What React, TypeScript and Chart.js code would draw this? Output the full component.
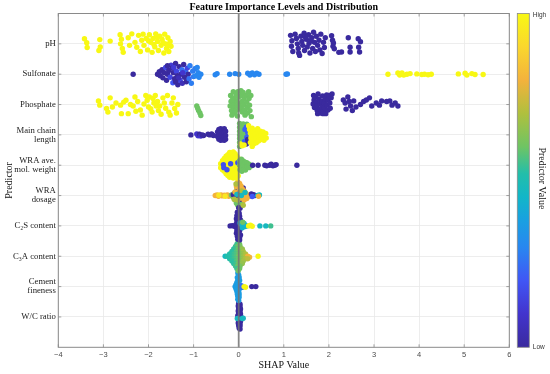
import React, { useEffect, useRef } from 'react';
import { Chart, registerables } from 'chart.js';
Chart.register(...registerables);

// ---------- data ----------
const featureLabels: (string | string[])[] = [
  'pH', 'Sulfonate', 'Phosphate', ['Main chain', 'length'], ['WRA ave.', 'mol. weight'],
  ['WRA', 'dosage'], 'C\u2082S content', 'C\u2083A content', ['Cement', 'fineness'], 'W/C ratio',
];
const rowPositions = [10, 9, 8, 7, 6, 5, 4, 3, 2, 1];
const xTickValues = [-4, -3, -2, -1, 0, 1, 2, 3, 4, 5, 6];

// each point: [SHAP value, vertical jitter (rows), normalised predictor value 0..1]
type P = [number, number, number];

const phPts: P[] = [
  [-3.42, 0.17, 1], [-3.37, 0.04, 1], [-3.36, -0.12, 1], [-3.08, 0.14, 1], [-3.1, -0.22, 1], [-3.07, -0.1, 1],
  [-2.85, 0.09, 1], [-2.63, 0.3, 1], [-2.6, 0.15, 1], [-2.62, 0.0, 1], [-2.58, -0.15, 1], [-2.56, -0.28, 1],
  [-2.37, 0.33, 1], [-2.3, 0.05, 1], [-2.26, -0.11, 1], [-2.22, 0.28, 1], [-2.18, -0.25, 1], [-2.12, 0.32, 1],
  [-2.1, -0.05, 1], [-2.05, 0.18, 1], [-2.02, -0.2, 1], [-1.98, 0.3, 1], [-1.95, 0.05, 1], [-1.92, -0.28, 1],
  [-1.9, 0.18, 1], [-1.86, -0.1, 1], [-1.84, 0.33, 1], [-1.8, 0.08, 1], [-1.78, -0.22, 1], [-1.75, 0.25, 1],
  [-1.72, -0.05, 1], [-1.7, 0.15, 1], [-1.66, -0.3, 1], [-1.64, 0.32, 1], [-1.62, 0.0, 1], [-1.6, -0.15, 1],
  [-1.57, 0.2, 1], [-1.55, -0.25, 1], [-1.52, 0.08, 1], [-1.5, -0.08, 1], [-2.45, 0.2, 1], [-2.42, -0.05, 1],
  [-2.0, 0.1, 1], [-1.88, -0.02, 1], [-1.68, 0.05, 1], [-2.15, 0.12, 1], [-1.82, 0.22, 1], [-1.58, -0.03, 1],
  [1.15, 0.28, 0], [1.18, 0.1, 0], [1.17, -0.08, 0], [1.2, -0.25, 0], [1.25, 0.32, 0], [1.28, 0.18, 0],
  [1.3, 0.0, 0], [1.32, -0.15, 0], [1.33, -0.3, 0], [1.38, 0.25, 0], [1.4, 0.08, 0], [1.42, -0.05, 0],
  [1.45, 0.35, 0], [1.46, -0.22, 0], [1.5, 0.15, 0], [1.52, -0.1, 0], [1.55, 0.3, 0], [1.56, 0.02, 0],
  [1.58, -0.3, 0], [1.62, 0.2, 0], [1.64, -0.15, 0], [1.66, 0.38, 0], [1.68, 0.05, 0], [1.7, -0.25, 0],
  [1.72, 0.25, 0], [1.75, -0.05, 0], [1.78, 0.12, 0], [1.8, -0.2, 0], [1.82, 0.32, 0], [1.85, -0.32, 0],
  [1.88, 0.05, 0], [1.9, -0.12, 0], [1.92, 0.2, 0], [1.35, -0.38, 0], [1.6, 0.1, 0], [1.48, 0.22, 0],
  [2.06, 0.27, 0], [2.08, 0.12, 0], [2.1, 0.03, 0], [2.09, -0.08, 0], [2.12, -0.16, 0], [2.28, -0.27, 0],
  [2.43, 0.2, 0], [2.47, -0.11, 0], [2.47, -0.27, 0], [2.65, 0.17, 0], [2.7, 0.07, 0], [2.66, -0.11, 0],
  [2.68, -0.27, 0], [2.22, -0.28, 0],
];

const sulfonatePts: P[] = [
  [-2.34, 0.0, 0],
  [-1.8, 0.0, 0], [-1.76, 0.08, 0], [-1.74, -0.05, 0], [-1.7, 0.15, 0], [-1.68, -0.12, 0], [-1.65, 0.05, 0],
  [-1.62, 0.22, 0.15], [-1.6, -0.2, 0], [-1.58, 0.0, 0], [-1.55, 0.12, 0], [-1.52, -0.1, 0.15], [-1.5, 0.3, 0.12],
  [-1.48, 0.2, 0], [-1.46, -0.28, 0.2], [-1.45, 0.05, 0], [-1.42, -0.15, 0], [-1.4, 0.35, 0], [-1.38, 0.1, 0.15],
  [-1.36, -0.05, 0], [-1.35, -0.35, 0], [-1.32, 0.25, 0], [-1.3, -0.2, 0.15], [-1.28, 0.0, 0], [-1.26, 0.15, 0.25],
  [-1.25, -0.3, 0.05], [-1.22, 0.32, 0], [-1.2, -0.1, 0], [-1.18, 0.08, 0.25], [-1.16, -0.25, 0], [-1.14, 0.2, 0.15],
  [-1.12, 0.0, 0], [-1.1, -0.15, 0.25], [-1.08, 0.28, 0.28], [-1.05, -0.3, 0.28], [-1.02, 0.1, 0.28], [-1.0, -0.08, 0.28],
  [-0.97, 0.18, 0.28], [-0.95, -0.05, 0.3], [-0.92, 0.22, 0.3], [-0.9, 0.05, 0.3], [-0.88, -0.1, 0.3], [-1.58, 0.28, 0],
  [-1.44, 0.22, 0.12], [-1.33, -0.12, 0.05], [-1.24, 0.05, 0.1], [-1.4, -0.25, 0],
  [-0.84, 0.0, 0.3], [-0.52, -0.02, 0.3], [-0.48, 0.02, 0.3], [-0.2, 0.0, 0.3], [-0.08, 0.02, 0.3], [0.0, 0.0, 0.3],
  [0.2, 0.03, 0.3], [0.25, -0.03, 0.3], [0.3, 0.04, 0.3], [0.35, -0.02, 0.3], [0.4, 0.03, 0.3], [0.45, 0.0, 0.3],
  [1.05, 0.0, 0.3], [1.08, 0.01, 0.3],
  [3.31, 0.0, 1], [3.53, 0.04, 1], [3.57, -0.03, 1], [3.62, 0.04, 1], [3.66, -0.03, 1], [3.73, 0.0, 1],
  [3.8, 0.02, 1], [3.95, 0.01, 1], [4.06, -0.01, 1], [4.12, 0.0, 1], [4.2, -0.02, 1], [4.27, 0.0, 1],
  [4.87, 0.01, 1], [5.02, 0.03, 1], [5.06, -0.03, 1], [5.17, 0.02, 1], [5.24, -0.01, 1], [5.42, -0.01, 1],
];

const phosphatePts: P[] = [
  [-3.11, 0.12, 1], [-3.08, -0.02, 1], [-2.93, -0.13, 1], [-2.9, -0.25, 1], [-2.85, 0.22, 1], [-2.8, -0.08, 1],
  [-2.72, 0.05, 1], [-2.62, -0.02, 1], [-2.6, -0.3, 1], [-2.5, 0.14, 1], [-2.45, -0.3, 1], [-2.4, 0.0, 1],
  [-2.34, -0.05, 1], [-2.3, 0.25, 1], [-2.24, 0.1, 1], [-2.18, -0.18, 1], [-2.14, -0.35, 1], [-2.1, 0.02, 1],
  [-2.06, 0.3, 1], [-2.03, 0.14, 1], [-2.0, -0.08, 1], [-1.98, 0.25, 1], [-1.95, -0.14, 1], [-1.92, -0.25, 1],
  [-1.9, 0.2, 1], [-1.88, 0.05, 1], [-1.85, 0.3, 1], [-1.83, -0.05, 1], [-1.8, 0.1, 1], [-1.78, -0.2, 1],
  [-1.75, -0.05, 1], [-1.72, -0.32, 1], [-1.68, 0.22, 1], [-1.65, 0.05, 1], [-1.62, -0.12, 1], [-1.58, 0.3, 1],
  [-1.55, -0.25, 1], [-1.52, -0.35, 1], [-1.48, 0.05, 1], [-1.45, 0.22, 1], [-1.42, -0.13, 1], [-1.38, -0.28, 1],
  [-1.35, 0.0, 1], [-2.55, 0.08, 1], [-2.28, -0.22, 1],
  [-0.93, -0.05, 0.6], [-0.91, -0.12, 0.6], [-0.89, -0.2, 0.6], [-0.86, -0.28, 0.6], [-0.84, -0.36, 0.6],
  [-0.18, 0.3, 0.6], [-0.17, 0.1, 0.6], [-0.19, -0.05, 0.6], [-0.16, -0.2, 0.6], [-0.15, -0.35, 0.6], [-0.12, 0.42, 0.6],
  [-0.1, 0.22, 0.6], [-0.1, 0.0, 0.6], [-0.11, -0.12, 0.6], [-0.09, -0.28, 0.6], [-0.06, 0.35, 0.6], [-0.05, 0.12, 0.6],
  [-0.04, -0.05, 0.6], [-0.06, -0.2, 0.6], [-0.03, -0.38, 0.6], [0.0, 0.25, 0.6], [0.01, 0.02, 0.6], [0.02, -0.15, 0.6],
  [0.05, 0.46, 0.6], [0.06, 0.3, 0.6], [0.07, 0.1, 0.6], [0.06, -0.08, 0.6], [0.08, -0.25, 0.6], [0.1, 0.4, 0.6],
  [0.12, 0.18, 0.6], [0.12, 0.0, 0.6], [0.13, -0.18, 0.6], [0.14, -0.35, 0.6], [0.17, 0.3, 0.6], [0.18, 0.08, 0.6],
  [0.19, -0.1, 0.6], [0.2, -0.28, 0.6], [0.22, 0.42, 0.6], [0.23, 0.2, 0.6], [0.24, -0.02, 0.6], [0.25, -0.2, 0.6],
  [0.27, 0.3, 0.6], [0.28, -0.4, 0.6], [-0.14, 0.15, 0.6], [-0.02, 0.42, 0.6],
  [1.66, 0.3, 0], [1.67, 0.15, 0], [1.65, 0.02, 0], [1.68, -0.1, 0], [1.7, 0.25, 0], [1.72, 0.08, 0],
  [1.73, -0.05, 0], [1.74, -0.2, 0], [1.76, 0.35, 0], [1.78, 0.18, 0], [1.8, 0.02, 0], [1.8, -0.15, 0],
  [1.82, -0.28, 0], [1.84, 0.1, 0], [1.85, -0.08, 0], [1.86, 0.28, 0], [1.88, -0.22, 0], [1.9, 0.05, 0],
  [1.9, -0.1, 0], [1.92, 0.2, 0], [1.93, -0.3, 0], [1.95, 0.32, 0], [1.96, -0.02, 0], [1.98, 0.15, 0],
  [1.98, -0.18, 0], [2.0, 0.3, 0], [2.02, 0.05, 0], [2.03, -0.12, 0], [2.05, 0.22, 0], [2.07, 0.35, 0],
  [1.87, -0.3, 0], [1.75, -0.3, 0],
  [2.32, 0.15, 0], [2.36, 0.05, 0], [2.38, -0.15, 0], [2.42, 0.25, 0], [2.45, 0.1, 0], [2.48, -0.05, 0],
  [2.52, -0.2, 0], [2.55, 0.12, 0], [2.6, -0.08, 0], [2.7, 0.0, 0], [2.77, 0.1, 0], [2.83, 0.15, 0],
  [2.9, 0.22, 0], [2.95, -0.05, 0], [3.05, 0.05, 0], [3.12, -0.02, 0], [3.17, 0.12, 0], [3.28, 0.1, 0],
  [3.35, 0.12, 0], [3.4, -0.02, 0], [3.47, 0.05, 0], [3.53, -0.05, 0],
];

const mainChainPts: P[] = [
  [-1.06, 0.0, 0], [-0.93, 0.03, 0.1], [-0.9, -0.03, 0.1], [-0.87, 0.02, 0], [-0.84, -0.04, 0.1], [-0.81, 0.0, 0],
  [-0.78, -0.02, 0], [-0.68, 0.02, 0], [-0.64, 0.0, 0], [-0.6, 0.03, 0], [-0.56, -0.02, 0],
  [-0.47, 0.1, 0], [-0.47, -0.05, 0], [-0.44, 0.18, 0], [-0.44, 0.02, 0], [-0.44, -0.14, 0], [-0.4, 0.2, 0],
  [-0.4, 0.08, 0], [-0.4, -0.06, 0], [-0.4, -0.18, 0], [-0.36, 0.18, 0], [-0.36, 0.05, 0], [-0.36, -0.08, 0],
  [-0.36, -0.16, 0], [-0.32, 0.2, 0], [-0.32, 0.08, 0], [-0.32, -0.05, 0], [-0.32, -0.18, 0], [-0.29, 0.12, 0],
  [-0.29, -0.02, 0], [-0.29, -0.14, 0],
  [0.02, 0.38, 0.6], [0.02, 0.25, 0.6], [0.02, 0.12, 0.6], [0.02, 0.0, 0.6], [0.02, -0.12, 0.6], [0.02, -0.25, 0.6],
  [0.02, -0.38, 0.6], [0.06, 0.32, 0.6], [0.06, 0.2, 0.6], [0.06, 0.07, 0.6], [0.06, -0.06, 0.6], [0.06, -0.2, 0.6],
  [0.06, -0.32, 0.6], [0.1, 0.36, 0.6], [0.1, 0.22, 0.6], [0.1, 0.1, 0.6], [0.1, -0.03, 0.6], [0.1, -0.16, 0.6],
  [0.1, -0.28, 0.6], [0.14, 0.3, 0.6], [0.14, 0.05, 0.6], [0.14, -0.1, 0.6], [0.18, 0.35, 0.6], [0.18, 0.15, 0.6],
  [0.14, 0.18, 0.22], [0.17, 0.25, 0.22], [0.2, 0.08, 0.22], [0.18, -0.08, 0.22], [0.2, -0.2, 0.22], [0.13, -0.22, 0.22],
  [0.2, -0.15, 0], [0.22, -0.25, 0], [0.17, -0.3, 0],
  [0.04, -0.3, 1], [0.08, -0.36, 1], [0.12, -0.33, 1],
  [0.24, 0.18, 1], [0.26, 0.05, 1], [0.27, -0.1, 1], [0.26, -0.25, 1], [0.3, 0.22, 1], [0.31, 0.1, 1],
  [0.32, -0.03, 1], [0.32, -0.16, 1], [0.33, -0.3, 1], [0.36, 0.15, 1], [0.37, 0.02, 1], [0.38, -0.12, 1],
  [0.39, -0.26, 1], [0.42, 0.2, 1], [0.43, 0.07, 1], [0.44, -0.06, 1], [0.44, -0.2, 1], [0.48, 0.12, 1],
  [0.49, -0.02, 1], [0.5, -0.15, 1], [0.54, 0.1, 1], [0.55, -0.05, 1], [0.56, -0.18, 1], [0.6, 0.05, 1],
  [0.61, -0.1, 1], [0.3, -0.38, 1], [0.22, 0.3, 1],
];

const wraMolPts: P[] = [
  [-0.4, 0.05, 1], [-0.4, -0.08, 1], [-0.36, 0.15, 1], [-0.36, 0.0, 1], [-0.36, -0.15, 1], [-0.32, 0.22, 1],
  [-0.32, 0.08, 1], [-0.32, -0.06, 1], [-0.32, -0.2, 1], [-0.28, 0.3, 1], [-0.28, 0.15, 1], [-0.28, 0.0, 1],
  [-0.28, -0.14, 1], [-0.28, -0.28, 1], [-0.24, 0.35, 1], [-0.24, 0.22, 1], [-0.24, 0.08, 1], [-0.24, -0.06, 1],
  [-0.24, -0.2, 1], [-0.24, -0.34, 1], [-0.2, 0.42, 1], [-0.2, 0.28, 1], [-0.2, 0.15, 1], [-0.2, 0.0, 1],
  [-0.2, -0.14, 1], [-0.2, -0.28, 1], [-0.2, -0.4, 1], [-0.16, 0.38, 1], [-0.16, 0.22, 1], [-0.16, 0.08, 1],
  [-0.16, -0.06, 1], [-0.16, -0.2, 1], [-0.16, -0.34, 1], [-0.12, 0.44, 1], [-0.12, 0.3, 1], [-0.12, 0.15, 1],
  [-0.12, 0.0, 1], [-0.12, -0.14, 1], [-0.12, -0.28, 1], [-0.12, -0.42, 1], [-0.08, 0.38, 1], [-0.08, 0.22, 1],
  [-0.08, 0.08, 1], [-0.08, -0.06, 1], [-0.08, -0.2, 1], [-0.08, -0.34, 1], [-0.04, 0.3, 1], [-0.04, 0.15, 1],
  [-0.04, 0.0, 1], [-0.04, -0.14, 1], [-0.04, -0.28, 1], [-0.04, -0.42, 1], [-0.01, 0.22, 1], [-0.01, -0.35, 1],
  [-0.34, 0.02, 0.18], [-0.33, -0.08, 0.18], [-0.26, -0.15, 0.18], [-0.18, 0.05, 0.18], [-0.02, 0.08, 0.18],
  [0.02, 0.15, 0.6], [0.02, 0.0, 0.6], [0.03, -0.15, 0.6], [0.06, 0.2, 0.6], [0.06, 0.06, 0.6], [0.07, -0.08, 0.6],
  [0.07, -0.2, 0.6], [0.1, 0.14, 0.6], [0.1, 0.0, 0.6], [0.11, -0.14, 0.6], [0.14, 0.1, 0.6], [0.15, -0.04, 0.6],
  [0.15, -0.16, 0.6], [0.18, 0.08, 0.6], [0.19, -0.06, 0.6], [0.22, 0.04, 0.6], [0.23, -0.08, 0.6], [0.26, 0.0, 0.6],
  [0.29, -0.02, 0.6],
  [0.31, 0.0, 0], [0.43, 0.0, 0], [0.58, 0.0, 0], [0.62, -0.02, 0], [0.69, 0.0, 0], [0.72, 0.03, 0],
  [0.76, -0.02, 0], [0.8, 0.0, 0], [0.83, 0.02, 0], [1.29, 0.0, 0],
];

const wraDosagePts: P[] = [
  [-0.52, 0.0, 0.8], [-0.48, 0.02, 0.8], [-0.45, -0.02, 0.8], [-0.42, 0.0, 0.8], [-0.39, 0.02, 0.8], [-0.36, -0.01, 0.8],
  [-0.32, 0.01, 0.8], [-0.28, 0.0, 0.8], [-0.25, 0.02, 0.8], [-0.22, -0.02, 0.8], [-0.44, 0.01, 0.95], [-0.3, -0.02, 0.95],
  [-0.16, 0.02, 0.6], [-0.12, -0.05, 0.6], [-0.1, 0.08, 0.6], [-0.08, -0.15, 0.6], [-0.05, -0.25, 0.6], [-0.02, -0.32, 0.6],
  [0.0, 0.05, 0.6], [0.02, -0.2, 0.6], [0.06, -0.3, 0.6], [0.04, 0.1, 0.6], [0.08, -0.22, 0.6], [-0.04, 0.2, 0.6],
  [0.14, -0.05, 0.6],
  [0.0, 0.3, 0], [-0.02, 0.18, 0], [0.04, -0.12, 0], [-0.06, -0.05, 0], [0.0, -0.4, 0], [0.03, -0.42, 0],
  [0.08, 0.08, 0], [-0.12, 0.03, 0], [0.1, 0.25, 0],
  [-0.02, 0.45, 0.8], [0.02, 0.4, 0.8], [0.05, 0.32, 0.8], [-0.05, 0.3, 0.8], [0.08, 0.22, 0.8], [0.12, 0.15, 0.8],
  [0.16, 0.08, 0.8], [0.2, 0.02, 0.8], [0.24, -0.02, 0.8], [0.1, 0.0, 0.8], [0.05, -0.08, 0.8], [0.12, -0.15, 0.8],
  [0.18, -0.1, 0.8], [-0.08, 0.12, 0.8], [0.02, 0.2, 0.8],
  [-0.06, 0.38, 0.7], [0.06, 0.15, 0.7], [-0.1, -0.12, 0.7], [0.1, -0.32, 0.7], [-0.02, -0.15, 0.7],
  [0.06, 0.0, 0.47], [0.14, 0.1, 0.47], [-0.04, 0.04, 0.47],
  [0.28, 0.05, 0], [0.33, 0.03, 0], [0.36, 0.0, 0], [0.3, -0.03, 0.2], [0.42, 0.0, 0.47], [0.46, 0.02, 0.47],
  [0.44, -0.02, 0.8],
];

const c2sPts: P[] = [
  [-0.19, 0.0, 0], [-0.14, 0.01, 0], [-0.1, -0.01, 0],
  [-0.03, 0.45, 0], [0.01, 0.42, 0], [-0.04, 0.34, 0], [0.02, 0.32, 0], [-0.05, 0.24, 0], [0.0, 0.24, 0],
  [0.04, 0.2, 0], [-0.04, 0.14, 0], [0.02, 0.12, 0], [-0.06, 0.05, 0], [-0.01, 0.04, 0], [0.04, 0.02, 0],
  [-0.05, -0.05, 0], [0.0, -0.05, 0], [0.04, -0.08, 0], [-0.04, -0.15, 0], [0.02, -0.16, 0], [-0.05, -0.24, 0],
  [0.0, -0.26, 0], [0.04, -0.3, 0], [-0.03, -0.34, 0], [0.02, -0.38, 0], [-0.02, -0.44, 0], [0.02, -0.46, 0],
  [0.06, 0.05, 0.45], [0.1, 0.03, 0.45], [0.14, -0.02, 0.45], [0.08, -0.06, 0.45], [0.12, 0.08, 0.45],
  [0.18, 0.0, 0.45], [0.03, 0.1, 0.45], [0.09, 0.12, 0.6],
  [0.22, 0.0, 1], [0.26, 0.02, 1], [0.3, -0.01, 1],
  [0.47, 0.0, 0.47], [0.6, 0.0, 0.47], [0.71, 0.0, 0.55],
];

const c3aPts: P[] = [
  [-0.3, 0.0, 0.47],
  [-0.01, 0.48, 0.6],
  [-0.04, 0.4, 0.55], [0.02, 0.4, 0.6],
  [-0.07, 0.32, 0.55], [-0.02, 0.32, 0.6], [0.03, 0.32, 0.62],
  [-0.11, 0.24, 0.53], [-0.06, 0.24, 0.55], [-0.01, 0.24, 0.6], [0.04, 0.24, 0.62], [0.08, 0.24, 0.66],
  [-0.15, 0.16, 0.53], [-0.1, 0.16, 0.53], [-0.05, 0.16, 0.57], [0.0, 0.16, 0.6], [0.05, 0.16, 0.62], [0.1, 0.16, 0.68],
  [-0.2, 0.08, 0.52], [-0.15, 0.08, 0.53], [-0.1, 0.08, 0.55], [-0.05, 0.08, 0.57], [0.0, 0.08, 0.6], [0.05, 0.08, 0.62],
  [0.1, 0.08, 0.66], [0.15, 0.08, 0.7],
  [-0.25, 0.0, 0.52], [-0.2, 0.0, 0.52], [-0.15, 0.0, 0.53], [-0.1, 0.0, 0.55], [-0.05, 0.0, 0.57], [0.0, 0.0, 0.62],
  [0.05, 0.0, 0.62], [0.1, 0.0, 0.66], [0.15, 0.0, 0.7], [0.2, 0.0, 0.8], [0.24, -0.03, 0.8],
  [-0.2, -0.08, 0.52], [-0.15, -0.08, 0.53], [-0.1, -0.08, 0.55], [-0.05, -0.08, 0.57], [0.0, -0.08, 0.6],
  [0.05, -0.08, 0.62], [0.1, -0.08, 0.66], [0.15, -0.08, 0.7], [0.2, -0.08, 0.72],
  [-0.15, -0.16, 0.53], [-0.1, -0.16, 0.53], [-0.05, -0.16, 0.57], [0.0, -0.16, 0.6], [0.05, -0.16, 0.62], [0.1, -0.16, 0.68],
  [-0.11, -0.24, 0.53], [-0.06, -0.24, 0.55], [-0.01, -0.24, 0.6], [0.04, -0.24, 0.62], [0.08, -0.24, 0.66],
  [-0.07, -0.32, 0.55], [-0.02, -0.32, 0.6], [0.03, -0.32, 0.62],
  [-0.04, -0.4, 0.55], [0.02, -0.4, 0.6],
  [-0.01, -0.48, 0.6],
  [0.43, 0.0, 1],
];

const cementPts: P[] = [
  [-0.02, 0.45, 0.37], [0.0, 0.38, 0.37], [-0.03, 0.3, 0.37], [0.01, 0.3, 0.37], [-0.02, 0.22, 0.37], [0.02, 0.2, 0.37],
  [-0.04, 0.14, 0.37], [0.0, 0.12, 0.37], [-0.06, 0.06, 0.37], [-0.02, 0.05, 0.37], [0.02, 0.04, 0.37], [-0.08, 0.0, 0.37],
  [-0.04, -0.01, 0.37], [0.0, -0.02, 0.37], [0.04, 0.0, 0.37], [-0.06, -0.07, 0.37], [-0.02, -0.08, 0.37], [0.02, -0.06, 0.37],
  [-0.04, -0.15, 0.37], [0.0, -0.16, 0.37], [-0.03, -0.24, 0.37], [0.01, -0.24, 0.37], [-0.02, -0.32, 0.37], [0.01, -0.34, 0.37],
  [-0.02, -0.42, 0.37], [0.0, -0.46, 0.37],
  [0.06, 0.03, 0.25], [0.08, -0.02, 0.25],
  [0.12, 0.0, 1], [0.15, -0.02, 1],
  [0.29, 0.0, 0], [0.38, 0.0, 0],
];

const wcPts: P[] = [
  [0.0, 0.45, 0], [0.03, 0.42, 0], [-0.01, 0.36, 0], [0.03, 0.34, 0], [0.0, 0.28, 0], [0.04, 0.26, 0],
  [-0.01, 0.2, 0], [0.03, 0.18, 0], [0.0, 0.12, 0], [0.04, 0.1, 0], [-0.02, 0.04, 0], [0.02, 0.03, 0],
  [0.05, 0.0, 0], [-0.01, -0.04, 0], [0.03, -0.06, 0], [0.0, -0.12, 0], [0.04, -0.14, 0], [-0.01, -0.2, 0],
  [0.03, -0.22, 0], [0.0, -0.28, 0], [0.03, -0.3, 0], [0.01, -0.36, 0], [0.03, -0.4, 0],
  [0.08, -0.05, 0.47], [0.1, -0.04, 0.47], [-0.03, -0.05, 0.47],
];

const featurePoints: P[][] = [
  phPts, sulfonatePts, phosphatePts, mainChainPts, wraMolPts, wraDosagePts, c2sPts, c3aPts, cementPts, wcPts,
];

// ---------- colour map (parula-like) ----------
const cmapStops: [number, number[]][] = [
  [0.0, [58, 42, 158]],
  [0.1, [66, 52, 205]],
  [0.2, [64, 86, 245]],
  [0.3, [40, 135, 240]],
  [0.38, [25, 160, 225]],
  [0.45, [18, 182, 200]],
  [0.52, [35, 190, 170]],
  [0.6, [110, 196, 100]],
  [0.7, [175, 192, 62]],
  [0.8, [243, 178, 60]],
  [0.9, [250, 215, 45]],
  [1.0, [248, 248, 20]],
];
function cmap(v: number): string {
  for (let i = 1; i < cmapStops.length; i++) {
    const [t1, c1] = cmapStops[i];
    const [t0, c0] = cmapStops[i - 1];
    if (v <= t1) {
      const f = (v - t0) / (t1 - t0 || 1);
      const c = c0.map((a, k) => Math.round(a + (c1[k] - a) * f));
      return `rgb(${c[0]},${c[1]},${c[2]})`;
    }
  }
  const l = cmapStops[cmapStops.length - 1][1];
  return `rgb(${l[0]},${l[1]},${l[2]})`;
}

const SERIF = '"Liberation Serif", "Times New Roman", serif';
const SANS = '"Liberation Sans", Arial, sans-serif';

const decorPlugin = {
  id: 'decor',
  afterDatasetsDraw(chart: any) {
    const { ctx, chartArea, scales } = chart;
    const { left, right, top, bottom } = chartArea;
    const xs = scales.x;
    const ys = scales.y;
    ctx.save();
    // zero line
    const x0 = xs.getPixelForValue(0);
    ctx.strokeStyle = 'rgba(115,115,115,0.85)';
    ctx.lineWidth = 1.8;
    ctx.beginPath();
    ctx.moveTo(x0, top);
    ctx.lineTo(x0, bottom);
    ctx.stroke();
    // inner tick marks
    ctx.strokeStyle = '#8a8a8a';
    ctx.lineWidth = 0.8;
    ctx.beginPath();
    xTickValues.forEach((v) => {
      const px = xs.getPixelForValue(v);
      ctx.moveTo(px, bottom);
      ctx.lineTo(px, bottom - 3);
      ctx.moveTo(px, top);
      ctx.lineTo(px, top + 3);
    });
    rowPositions.forEach((v) => {
      const py = ys.getPixelForValue(v);
      ctx.moveTo(left, py);
      ctx.lineTo(left + 3, py);
      ctx.moveTo(right, py);
      ctx.lineTo(right - 3, py);
    });
    ctx.stroke();
    // box
    ctx.strokeStyle = '#8a8a8a';
    ctx.lineWidth = 1;
    ctx.strokeRect(left, top, right - left, bottom - top);
    ctx.restore();
  },
  afterDraw(chart: any) {
    const { ctx, chartArea } = chart;
    const { left, right, top, bottom } = chartArea;
    ctx.save();
    // title
    ctx.fillStyle = '#000';
    ctx.font = `bold 10px ${SERIF}`;
    ctx.textAlign = 'center';
    ctx.textBaseline = 'middle';
    ctx.fillText('Feature Importance Levels and Distribution', (left + right) / 2, 7);
    // colour bar
    const cbL = right + 8;
    const cbW = 12;
    const grad = ctx.createLinearGradient(0, bottom, 0, top);
    cmapStops.forEach(([t]) => grad.addColorStop(t, cmap(t)));
    ctx.fillStyle = grad;
    ctx.fillRect(cbL, top, cbW, bottom - top);
    ctx.strokeStyle = '#8a8a8a';
    ctx.lineWidth = 0.8;
    ctx.strokeRect(cbL, top, cbW, bottom - top);
    ctx.fillStyle = '#333';
    ctx.font = `6.5px ${SANS}`;
    ctx.textAlign = 'left';
    ctx.fillText('High', cbL + cbW + 3.5, top + 2);
    ctx.fillText('Low', cbL + cbW + 3.5, bottom);
    // colour bar label
    ctx.fillStyle = '#111';
    ctx.font = `10px ${SERIF}`;
    ctx.translate(cbL + cbW + 12.5, (top + bottom) / 2 - 2);
    ctx.rotate(Math.PI / 2);
    ctx.textAlign = 'center';
    ctx.textBaseline = 'middle';
    ctx.fillText('Predictor Value', 0, 0);
    ctx.restore();
  },
};

export default function App() {
  const canvasRef = useRef<HTMLCanvasElement | null>(null);

  useEffect(() => {
    document.body.style.margin = '0';
    const canvas = canvasRef.current;
    if (!canvas) return;

    const datasets = featurePoints.map((pts, i) => ({
      label: Array.isArray(featureLabels[i]) ? (featureLabels[i] as string[]).join(' ') : (featureLabels[i] as string),
      data: pts.map(([x, dy, c]) => ({ x, y: rowPositions[i] + dy, c })),
      backgroundColor: pts.map((p) => cmap(p[2])),
      pointRadius: 2.7,
      pointHoverRadius: 2.7,
      pointBorderWidth: 0,
      borderWidth: 0,
      showLine: false,
    }));

    const chart = new Chart(canvas, {
      type: 'scatter',
      data: { datasets } as any,
      plugins: [decorPlugin],
      options: {
        responsive: false,
        animation: false,
        events: [],
        layout: { padding: { top: 13.5, right: 40.7, left: 0, bottom: 0 } },
        plugins: {
          legend: { display: false },
          tooltip: { enabled: false },
          title: { display: false },
        },
        scales: {
          x: {
            type: 'linear',
            min: -4,
            max: 6,
            afterBuildTicks: (s: any) => {
              s.ticks = xTickValues.map((v) => ({ value: v }));
            },
            ticks: {
              padding: 3,
              maxRotation: 0,
              autoSkip: false,
              font: { family: SANS, size: 7.5 },
              color: '#4a4a4a',
              callback: (v: any) => (Number(v) < 0 ? '\u2212' + Math.abs(Number(v)) : String(v)),
            },
            grid: { color: '#e9e9e9', lineWidth: 0.8, drawTicks: false },
            border: { display: false },
            title: {
              display: true,
              text: 'SHAP Value',
              font: { family: SERIF, size: 10 },
              color: '#111',
              padding: { top: 0, bottom: 3 },
            },
            afterFit: (s: any) => {
              s.height = 26.7;
            },
          },
          y: {
            type: 'linear',
            min: 0,
            max: 11,
            afterBuildTicks: (s: any) => {
              s.ticks = rowPositions.map((v) => ({ value: v }));
            },
            ticks: {
              padding: 2.5,
              autoSkip: false,
              font: { family: SERIF, size: 8.7, lineHeight: 1.05 },
              color: '#222',
              callback: (v: any) => {
                const idx = rowPositions.indexOf(Number(v));
                return idx >= 0 ? (featureLabels[idx] as any) : '';
              },
            },
            grid: { color: '#e9e9e9', lineWidth: 0.8, drawTicks: false },
            border: { display: false },
            title: {
              display: true,
              text: 'Predictor',
              font: { family: SERIF, size: 10 },
              color: '#111',
              padding: { top: 3, bottom: 0 },
            },
            afterFit: (s: any) => {
              s.width = 58.3;
            },
          },
        },
      } as any,
    });

    return () => chart.destroy();
  }, []);

  return (
    <div style={{ width: 550, height: 374, position: 'relative' }}>
      <canvas ref={canvasRef} width={550} height={374} style={{ display: 'block' }} />
    </div>
  );
}
